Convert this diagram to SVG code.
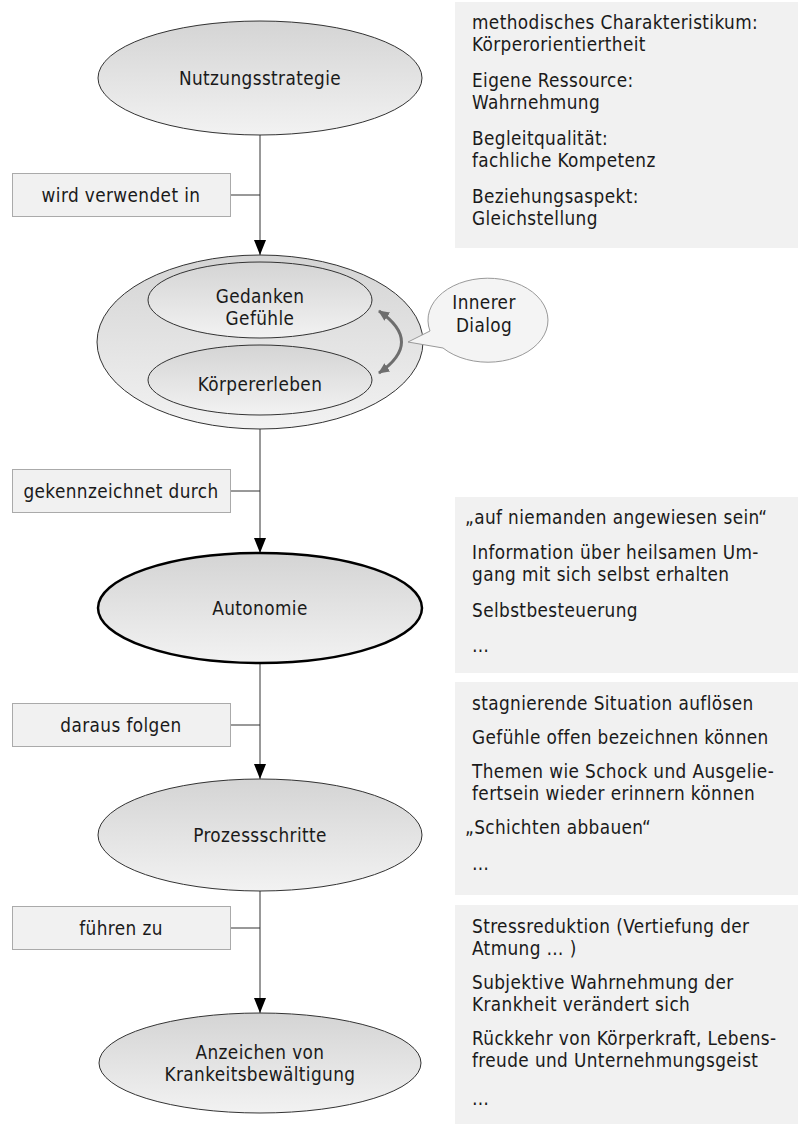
<svg xmlns="http://www.w3.org/2000/svg" width="798" height="1124" viewBox="0 0 798 1124">
<defs>
<linearGradient id="g" x1="0" y1="0" x2="0" y2="1">
<stop offset="0" stop-color="#d4d4d4"/>
<stop offset="1" stop-color="#f2f2f2"/>
</linearGradient>
<marker id="ah" markerUnits="userSpaceOnUse" markerWidth="15" markerHeight="12" refX="15" refY="6" orient="auto">
<path d="M0,0 L15,6 L0,12 z" fill="#000"/>
</marker>
<marker id="ga" markerUnits="userSpaceOnUse" markerWidth="11" markerHeight="10" refX="10" refY="5" orient="auto-start-reverse">
<path d="M0,0 L11,5 L0,10 z" fill="#6e6e6e"/>
</marker>
</defs>
<style>
text{font-family:"DejaVu Sans Condensed","Open Sans","Liberation Sans",sans-serif;font-size:18.8px;letter-spacing:0.4px;fill:#1a1a1a}
.c{text-anchor:middle}
.node{fill:url(#g);stroke:#333;stroke-width:1}
.bold{stroke:#000;stroke-width:2.5}
.lbl{fill:#f1f1f1;stroke:#aaa;stroke-width:1}
.panel{fill:#f1f1f1}
.ln{stroke:#333;stroke-width:1;fill:none}
</style>
<rect width="798" height="1124" fill="#fff"/>

<g id="panel1">
<rect class="panel" x="455" y="2" width="343" height="246"/>
<text x="472" y="29">methodisches Charakteristikum:</text>
<text x="472" y="51">Körperorientiertheit</text>
<text x="472" y="87">Eigene Ressource:</text>
<text x="472" y="109">Wahrnehmung</text>
<text x="472" y="145">Begleitqualität:</text>
<text x="472" y="167">fachliche Kompetenz</text>
<text x="472" y="203">Beziehungsaspekt:</text>
<text x="472" y="225">Gleichstellung</text>
</g>
<g id="panel2">
<rect class="panel" x="455" y="497" width="343" height="176"/>
<text x="465" y="524">„auf niemanden angewiesen sein“</text>
<text x="472" y="559">Information über heilsamen Um-</text>
<text x="472" y="581">gang mit sich selbst erhalten</text>
<text x="472" y="617">Selbstbesteuerung</text>
<text x="472" y="652">…</text>
</g>
<g id="panel3">
<rect class="panel" x="455" y="682" width="343" height="213"/>
<text x="472" y="710">stagnierende Situation auflösen</text>
<text x="472" y="744">Gefühle offen bezeichnen können</text>
<text x="472" y="778">Themen wie Schock und Ausgelie-</text>
<text x="472" y="800">fertsein wieder erinnern können</text>
<text x="465" y="834">„Schichten abbauen“</text>
<text x="472" y="870">…</text>
</g>
<g id="panel4">
<rect class="panel" x="455" y="905" width="343" height="219"/>
<text x="472" y="933">Stressreduktion (Vertiefung der</text>
<text x="472" y="955">Atmung … )</text>
<text x="472" y="989">Subjektive Wahrnehmung der</text>
<text x="472" y="1011">Krankheit verändert sich</text>
<text x="472" y="1045">Rückkehr von Körperkraft, Lebens-</text>
<text x="472" y="1067">freude und Unternehmungsgeist</text>
<text x="472" y="1105">…</text>
</g>

<g id="connectors">
<line class="ln" x1="260" y1="135" x2="260" y2="255" marker-end="url(#ah)"/>
<line class="ln" x1="231" y1="195" x2="260" y2="195"/>
<line class="ln" x1="260" y1="429" x2="260" y2="553" marker-end="url(#ah)"/>
<line class="ln" x1="231" y1="491" x2="260" y2="491"/>
<line class="ln" x1="260" y1="663" x2="260" y2="779" marker-end="url(#ah)"/>
<line class="ln" x1="231" y1="725" x2="260" y2="725"/>
<line class="ln" x1="260" y1="891" x2="260" y2="1013" marker-end="url(#ah)"/>
<line class="ln" x1="231" y1="928" x2="260" y2="928"/>
</g>

<g id="label-wird-verwendet-in">
<rect class="lbl" x="12.5" y="173.5" width="218" height="43"/>
<text class="c" x="121" y="202">wird verwendet in</text>
</g>
<g id="label-gekennzeichnet-durch">
<rect class="lbl" x="12.5" y="469.5" width="218" height="43"/>
<text class="c" x="121" y="498">gekennzeichnet durch</text>
</g>
<g id="label-daraus-folgen">
<rect class="lbl" x="12.5" y="703.5" width="218" height="43"/>
<text class="c" x="121" y="732">daraus folgen</text>
</g>
<g id="label-fuehren-zu">
<rect class="lbl" x="12.5" y="906.5" width="218" height="43"/>
<text class="c" x="121" y="935">führen zu</text>
</g>

<g id="node-nutzungsstrategie">
<ellipse class="node" cx="260" cy="78" rx="162" ry="57"/>
<text class="c" x="260" y="85">Nutzungsstrategie</text>
</g>
<g id="node-erleben">
<ellipse class="node" cx="260" cy="342" rx="163" ry="87"/>
<ellipse class="node" cx="260" cy="300" rx="112" ry="38"/>
<text class="c" x="260" y="303">Gedanken</text>
<text class="c" x="260" y="325">Gefühle</text>
<ellipse class="node" cx="260" cy="380" rx="112" ry="35"/>
<text class="c" x="260" y="391">Körpererleben</text>
<path d="M379,311 Q424,342 379,373" fill="none" stroke="#6e6e6e" stroke-width="3" marker-start="url(#ga)" marker-end="url(#ga)"/>
</g>
<g id="node-innerer-dialog">
<path d="M430,331 A60,42 0 1 1 443,348 L408,342 Z" fill="#f4f4f4" stroke="#999" stroke-width="1"/>
<text class="c" x="484" y="309">Innerer</text>
<text class="c" x="484" y="332">Dialog</text>
</g>
<g id="node-autonomie">
<ellipse class="node bold" cx="260" cy="608" rx="162" ry="55"/>
<text class="c" x="260" y="615">Autonomie</text>
</g>
<g id="node-prozessschritte">
<ellipse class="node" cx="260" cy="835" rx="162" ry="56"/>
<text class="c" x="260" y="842">Prozessschritte</text>
</g>
<g id="node-anzeichen">
<ellipse class="node" cx="260" cy="1063" rx="161" ry="50"/>
<text class="c" x="260" y="1059">Anzeichen von</text>
<text class="c" x="260" y="1081">Krankeitsbewältigung</text>
</g>
</svg>
